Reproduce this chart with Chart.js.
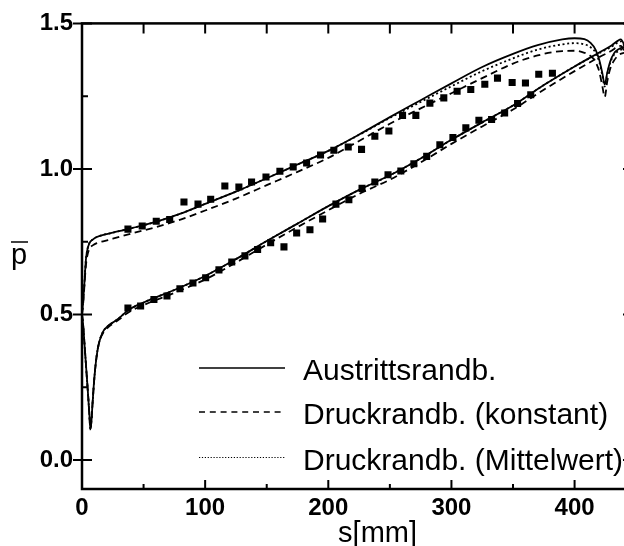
<!DOCTYPE html>
<html>
<head>
<meta charset="utf-8">
<script src="https://cdn.jsdelivr.net/npm/chart.js@4.4.1/dist/chart.umd.min.js"></script>
<style>
    html, body { margin: 0; padding: 0; background: #fff; overflow: hidden; }
    #wrap { width: 640px; height: 546px; }
</style>
</head>
<body>
<div id="wrap"><canvas id="grafik" width="640" height="546"></canvas></div>
<script>
// 1. DATEN
const serienNamen = ['Austrittsrandb.', 'Druckrandb. (konstant)', 'Druckrandb. (Mittelwert)'];

// Oberseite (s in mm)
const sOben = [0, 1, 2, 3, 4, 6, 9, 12, 18, 25, 40, 60, 80, 100, 125, 150, 175, 200, 225, 250,
    275, 300, 325, 350, 370, 390, 400, 408, 413, 417, 420, 422.5, 424.5, 426.5, 429, 432, 436, 441];
const pObenAustritt = [0.50, 0.55, 0.61, 0.68, 0.715, 0.745, 0.758, 0.766, 0.774, 0.781,
    0.796, 0.818, 0.846, 0.880, 0.922, 0.968, 1.015, 1.062, 1.118, 1.178,
    1.236, 1.294, 1.350, 1.395, 1.425, 1.445, 1.449, 1.446, 1.433, 1.410,
    1.375, 1.330, 1.290, 1.330, 1.370, 1.397, 1.412, 1.420];
const pObenKonstant = [0.50, 0.54, 0.60, 0.66, 0.695, 0.725, 0.738, 0.745, 0.752, 0.760,
    0.778, 0.800, 0.826, 0.857, 0.898, 0.944, 0.990, 1.038, 1.096, 1.155,
    1.208, 1.260, 1.312, 1.362, 1.390, 1.405, 1.406, 1.399, 1.388, 1.368,
    1.335, 1.285, 1.247, 1.300, 1.345, 1.372, 1.392, 1.400];
const pObenMittel = [0.50, 0.55, 0.61, 0.68, 0.715, 0.745, 0.758, 0.766, 0.774, 0.781,
    0.796, 0.818, 0.846, 0.880, 0.922, 0.968, 1.015, 1.062, 1.117, 1.175,
    1.230, 1.284, 1.336, 1.380, 1.410, 1.428, 1.432, 1.428, 1.418, 1.400,
    1.368, 1.322, 1.283, 1.325, 1.365, 1.392, 1.406, 1.415];

// Unterseite
const sUnten = [0, 1, 2, 3, 4, 5, 6, 6.8, 7.6, 8.5, 10, 12, 14, 17, 21, 25, 30, 37, 50, 75,
    100, 125, 150, 175, 200, 225, 250, 275, 300, 325, 350, 375, 400, 420, 430, 435, 437.5, 441];
const pUntenAustritt = [0.50, 0.46, 0.40, 0.34, 0.28, 0.22, 0.155, 0.105, 0.13, 0.19,
    0.28, 0.36, 0.405, 0.44, 0.46, 0.472, 0.487, 0.513, 0.541, 0.584,
    0.632, 0.690, 0.752, 0.812, 0.872, 0.928, 0.978, 1.036, 1.100, 1.160,
    1.218, 1.288, 1.352, 1.400, 1.424, 1.440, 1.445, 1.420];
const pUntenKonstant = [0.50, 0.46, 0.40, 0.34, 0.28, 0.22, 0.155, 0.105, 0.13, 0.19,
    0.28, 0.36, 0.405, 0.435, 0.455, 0.468, 0.482, 0.505, 0.532, 0.574,
    0.620, 0.678, 0.740, 0.800, 0.858, 0.914, 0.963, 1.022, 1.086, 1.146,
    1.204, 1.272, 1.336, 1.384, 1.406, 1.420, 1.423, 1.400];
const pUntenMittel = [0.50, 0.46, 0.40, 0.34, 0.28, 0.22, 0.155, 0.105, 0.13, 0.19,
    0.28, 0.36, 0.405, 0.44, 0.46, 0.472, 0.487, 0.513, 0.541, 0.584,
    0.632, 0.690, 0.752, 0.812, 0.872, 0.928, 0.978, 1.036, 1.100, 1.160,
    1.218, 1.288, 1.352, 1.398, 1.420, 1.434, 1.438, 1.418];

// Messwerte
const sMessOben = [37.3, 48.9, 60.3, 71.2, 82.8, 94.2, 104.5, 116, 127.4, 137.7,
    149.4, 160.7, 171.5, 182.4, 193.7, 204.5, 216.2, 227, 237.8, 249.2,
    260.3, 271.1, 282.5, 293.8, 304.6, 315.7, 327.1, 337.4, 349.3, 360.1, 370.9, 382];
const pMessOben = [0.793, 0.804, 0.820, 0.826, 0.886, 0.879, 0.896, 0.941, 0.938, 0.955,
    0.972, 0.992, 1.007, 1.020, 1.048, 1.064, 1.075, 1.067, 1.112, 1.130,
    1.184, 1.184, 1.226, 1.244, 1.267, 1.273, 1.291, 1.312, 1.297, 1.295, 1.325, 1.329];
const sMessUnten = [37.3, 47.6, 58.4, 69, 79.5, 90.1, 100.4, 111.2, 121.6, 132.3,
    142.6, 153.2, 164, 174.3, 185.1, 195.4, 206.2, 216.7, 227.4, 237.8,
    248.5, 258.9, 269.5, 279.9, 290.6, 301.2, 311.7, 322.3, 332.6, 343.2, 353.7, 364.4];
const pMessUnten = [0.522, 0.529, 0.551, 0.563, 0.588, 0.608, 0.626, 0.653, 0.680, 0.701,
    0.723, 0.746, 0.732, 0.780, 0.791, 0.828, 0.879, 0.894, 0.933, 0.955,
    0.980, 0.993, 1.018, 1.043, 1.083, 1.108, 1.141, 1.167, 1.170, 1.192, 1.225, 1.255];

// Achsen
const xMin = 0, xMax = 445, yMin = -0.1, yMax = 1.5;
const xBeschriftung = [0, 100, 200, 300, 400];
const xStriche = [50, 100, 150, 200, 250, 300, 350, 400];
const yBeschriftung = [0, 0.5, 1.0, 1.5];
const yZwischen = [0.25, 0.75, 1.25];

// 2. HILFSFUNKTIONEN
const SCHRIFT = "'Liberation Sans', Arial, sans-serif";

function punkte(sWerte, pWerte) {
    return sWerte.map((s, i) => ({ x: s, y: pWerte[i] }));
}

function kurve(sWerte, pWerte, dash) {
    return {
        data: punkte(sWerte, pWerte),
        borderColor: '#000',
        borderWidth: 1.8,
        borderDash: dash,
        pointRadius: 0,
        fill: false,
        cubicInterpolationMode: 'monotone'
    };
}

function messung(sWerte, pWerte) {
    return {
        data: punkte(sWerte, pWerte),
        showLine: false,
        pointStyle: 'rect',
        pointRadius: 5,
        borderWidth: 0,
        backgroundColor: '#000',
        borderColor: '#000'
    };
}

const istWert = (liste, v) => liste.some(w => Math.abs(w - v) < 1e-6);

// 3. RAHMEN, TITEL UND LEGENDE
const rahmenPlugin = {
    id: 'rahmen',
    afterDraw(chart) {
        const { ctx, chartArea: a, scales: { x, y } } = chart;
        ctx.save();
        ctx.strokeStyle = '#000';
        ctx.fillStyle = '#000';

        ctx.lineWidth = 2.5;
        ctx.strokeRect(a.left, a.top, a.right - a.left, a.bottom - a.top);

        ctx.lineWidth = 2;
        ctx.beginPath();
        xStriche.forEach(v => {
            const px = x.getPixelForValue(v);
            const lang = istWert(xBeschriftung, v) ? 9 : 5;
            ctx.moveTo(px, a.bottom); ctx.lineTo(px, a.bottom - lang);
            ctx.moveTo(px, a.top); ctx.lineTo(px, a.top + 10);
        });
        yBeschriftung.forEach(v => {
            const py = y.getPixelForValue(v);
            ctx.moveTo(a.left - 9, py); ctx.lineTo(a.left + 10, py);
            ctx.moveTo(a.right - 7, py); ctx.lineTo(a.right + 9, py);
        });
        yZwischen.forEach(v => {
            const py = y.getPixelForValue(v);
            ctx.moveTo(a.left, py); ctx.lineTo(a.left + 6, py);
            ctx.moveTo(a.right - 5, py); ctx.lineTo(a.right, py);
        });
        ctx.stroke();

        // Achsentitel
        ctx.font = '29px ' + SCHRIFT;
        ctx.textAlign = 'center';
        ctx.textBaseline = 'alphabetic';
        ctx.fillText('s[mm]', x.getPixelForValue(240), 542);
        ctx.textAlign = 'left';
        ctx.fillText('p', 11, 263.5);
        ctx.lineWidth = 1.5;
        ctx.beginPath();
        ctx.moveTo(11, 242); ctx.lineTo(28, 242);
        ctx.stroke();

        // Legende
        const muster = [[], [6, 4.8], [1.2, 1.7]];
        const breite = [1.5, 1.3, 1.2];
        const zeilen = [368, 412, 457.5];
        serienNamen.forEach((name, i) => {
            ctx.lineWidth = breite[i];
            ctx.setLineDash(muster[i]);
            ctx.beginPath();
            ctx.moveTo(199, zeilen[i]); ctx.lineTo(285, zeilen[i]);
            ctx.stroke();
            ctx.setLineDash([]);
            ctx.font = '30px ' + SCHRIFT;
            ctx.fillText(name, 303, zeilen[i] + 12);
        });
        ctx.restore();
    }
};

// 4. DIAGRAMM
const tickSchrift = { family: SCHRIFT, size: 24, weight: 'bold' };

new Chart(document.getElementById('grafik'), {
    type: 'line',
    data: {
        datasets: [
            { label: serienNamen[0], ...kurve(sOben, pObenAustritt, []) },
            { label: serienNamen[1], ...kurve(sOben, pObenKonstant, [7, 4.5]) },
            { label: serienNamen[2], ...kurve(sOben, pObenMittel, [2, 2.7]) },
            kurve(sUnten, pUntenAustritt, []),
            kurve(sUnten, pUntenKonstant, [7, 4.5]),
            kurve(sUnten, pUntenMittel, [2, 2.7]),
            messung(sMessOben, pMessOben),
            messung(sMessUnten, pMessUnten)
        ]
    },
    options: {
        responsive: false,
        animation: false,
        layout: { padding: { top: 23, right: 10, left: 0, bottom: 0 } },
        plugins: { legend: { display: false }, tooltip: { enabled: false } },
        scales: {
            x: {
                type: 'linear',
                min: xMin,
                max: xMax,
                afterFit: (s) => { s.height = 57; },
                grid: { display: false, drawTicks: false },
                border: { display: false },
                ticks: {
                    stepSize: 50,
                    includeBounds: false,
                    autoSkip: false,
                    maxRotation: 0,
                    padding: 5,
                    color: '#000',
                    font: tickSchrift,
                    callback: (v) => istWert(xBeschriftung, v) ? String(v) : ''
                }
            },
            y: {
                type: 'linear',
                min: yMin,
                max: yMax,
                afterFit: (s) => { s.width = 82; },
                grid: { display: false, drawTicks: false },
                border: { display: false },
                ticks: {
                    stepSize: 0.25,
                    includeBounds: false,
                    autoSkip: false,
                    padding: 9,
                    color: '#000',
                    font: tickSchrift,
                    callback: (v) => istWert(yBeschriftung, v) ? v.toFixed(1) : ''
                }
            }
        }
    },
    plugins: [rahmenPlugin]
});
</script>
</body>
</html>
